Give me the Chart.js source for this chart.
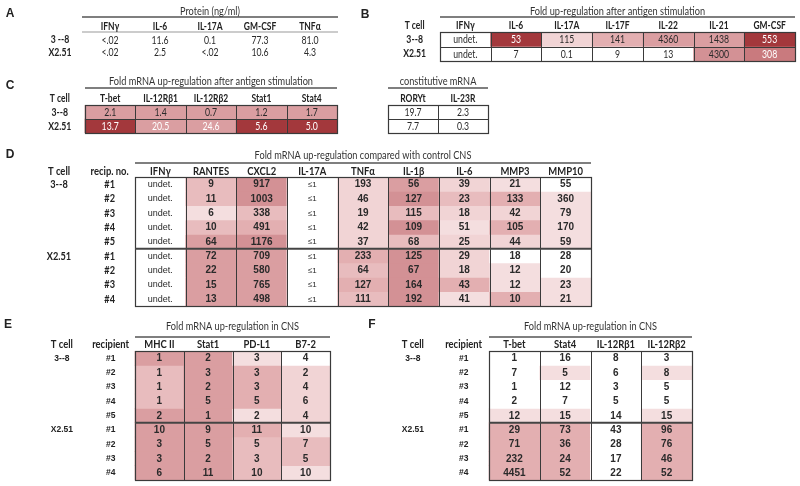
<!DOCTYPE html>
<html>
<head>
<meta charset="utf-8">
<script src="https://cdn.jsdelivr.net/npm/chart.js@4.4.1/dist/chart.umd.min.js"></script>
<style>
  body { margin: 0; background: #fff; }
  #wrap { position: relative; width: 800px; height: 486px; overflow: hidden; }
  #wrap canvas { position: absolute; left: 0; top: 0; }
</style>
</head>
<body>
<div id="wrap"></div>
<script>
// ---- data ----
const aTitle = "Protein (ng/ml)";
const aCols = ["IFNγ", "IL-6", "IL-17A", "GM-CSF", "TNFα"];
const aRows = ["3 --8", "X2.51"];
const aVals = [
  ["<.02", "11.6", "0.1", "77.3", "81.0"],
  ["<.02", "2.5", "<.02", "10.6", "4.3"]
];

const bTitle = "Fold up-regulation after antigen stimulation";
const bCols = ["IFNγ", "IL-6", "IL-17A", "IL-17F", "IL-22", "IL-21", "GM-CSF"];
const bRows = ["3--8", "X2.51"];
const bVals = [
  ["undet.", "53", "115", "141", "4360", "1438", "553"],
  ["undet.", "7", "0.1", "9", "13", "4300", "308"]
];
// shade level of each cell (0 = white ... 8 = dark red)
const bShades = [
  [0, 8, 2, 4, 5, 5, 8],
  [0, 0, 0, 0, 0, 6, 7]
];

const cTitle = "Fold mRNA up-regulation after antigen stimulation";
const cCols = ["T-bet", "IL-12Rβ1", "IL-12Rβ2", "Stat1", "Stat4"];
const cRows = ["3--8", "X2.51"];
const cVals = [
  ["2.1", "1.4", "0.7", "1.2", "1.7"],
  ["13.7", "20.5", "24.6", "5.6", "5.0"]
];
const cShades = [
  [5, 5, 5, 5, 5],
  [8, 5, 5, 8, 8]
];

const c2Title = "constitutive mRNA";
const c2Cols = ["RORYt", "IL-23R"];
const c2Vals = [
  ["19.7", "2.3"],
  ["7.7", "0.3"]
];

const groupLabels = ["3--8", "", "", "", "", "X2.51", "", "", ""];
const recipLabels = ["#1", "#2", "#3", "#4", "#5", "#1", "#2", "#3", "#4"];

const dTitle = "Fold mRNA up-regulation compared with control CNS";
const dCols = ["IFNγ", "RANTES", "CXCL2", "IL-17A", "TNFα", "IL-1β", "IL-6", "MMP3", "MMP10"];
const dVals = [
  ["undet.", "9", "917", "≤1", "193", "56", "39", "21", "55"],
  ["undet.", "11", "1003", "≤1", "46", "127", "23", "133", "360"],
  ["undet.", "6", "338", "≤1", "19", "115", "18", "42", "79"],
  ["undet.", "10", "491", "≤1", "42", "109", "51", "105", "170"],
  ["undet.", "64", "1176", "≤1", "37", "68", "25", "44", "59"],
  ["undet.", "72", "709", "≤1", "233", "125", "29", "18", "28"],
  ["undet.", "22", "580", "≤1", "64", "67", "18", "12", "20"],
  ["undet.", "15", "765", "≤1", "127", "164", "43", "12", "23"],
  ["undet.", "13", "498", "≤1", "111", "192", "41", "10", "21"]
];
const dShades = [
  [0, 3, 6, 0, 2, 5, 2, 1, 0],
  [0, 3, 6, 0, 2, 6, 3, 4, 1],
  [0, 1, 3, 0, 2, 3, 2, 2, 1],
  [0, 3, 4, 0, 2, 6, 1, 4, 1],
  [0, 5, 6, 0, 2, 3, 2, 2, 1],
  [0, 5, 5, 0, 4, 6, 2, 0, 0],
  [0, 5, 5, 0, 3, 6, 2, 1, 0],
  [0, 5, 5, 0, 4, 6, 4, 1, 1],
  [0, 5, 5, 0, 3, 6, 1, 4, 1]
];

const eTitle = "Fold mRNA up-regulation in CNS";
const eCols = ["MHC II", "Stat1", "PD-L1", "B7-2"];
const eVals = [
  ["1", "2", "3", "4"], ["1", "3", "3", "2"], ["1", "2", "3", "4"],
  ["1", "5", "5", "6"], ["2", "1", "2", "4"], ["10", "9", "11", "10"],
  ["3", "5", "5", "7"], ["3", "2", "3", "5"], ["6", "11", "10", "10"]
];
const eShades = [
  [5, 5, 1, 0], [3, 5, 4, 2], [3, 5, 4, 2], [3, 5, 4, 2], [5, 5, 1, 2],
  [5, 5, 4, 1], [5, 5, 3, 3], [5, 5, 3, 3], [5, 5, 3, 1]
];

const fTitle = "Fold mRNA up-regulation in CNS";
const fCols = ["T-bet", "Stat4", "IL-12Rβ1", "IL-12Rβ2"];
const fVals = [
  ["1", "16", "8", "3"], ["7", "5", "6", "8"], ["1", "12", "3", "5"],
  ["2", "7", "5", "5"], ["12", "15", "14", "15"], ["29", "73", "43", "96"],
  ["71", "36", "28", "76"], ["232", "24", "17", "46"], ["4451", "52", "22", "52"]
];
const fShades = [
  [0, 0, 0, 0], [0, 1, 0, 1], [0, 0, 0, 0], [0, 0, 0, 0], [1, 1, 0, 1],
  [4, 4, 0, 4], [4, 4, 0, 4], [4, 4, 0, 4], [4, 4, 0, 4]
];

// ---- styles ----
const palette = ["#ffffff", "#f4dedf", "#f1d4d5", "#e8bcbe", "#e3afb1",
                 "#da9ea1", "#d39195", "#c97a7e", "#a3383c"];
// [font, horizontal squeeze] - Lato is squeezed to look like the narrow original face
const titleFont = ["11.5px Lato", 0.8];
const fontsABC = { head: ["bold 11px Lato", 0.77], val: ["11px Lato", 0.79], lab: ["bold 11px Lato", 0.79] };
const fontsD = { head: ["bold 11.5px Lato", 0.82], val: ["bold 10px 'Liberation Sans'", 1], lab: ["bold 11.5px Lato", 0.8],
                 small: { "undet.": ["9px 'Liberation Sans'", 1], "≤1": ["8px 'Liberation Sans'", 1] } };
const fontsEF = { head: ["bold 11.5px Lato", 0.82], val: ["bold 10px 'Liberation Sans'", 1], lab: ["bold 8.5px 'Liberation Sans'", 1] };

const tables = [
  { letter: "A", letterPos: [10, 14], title: aTitle, labelHeads: [""], rowLabels: [aRows],
    cols: aCols, vals: aVals, box: [85, 33.5, 335, 58.5], grid: false, headLine: true,
    off: { head: 7, line: 16.5, title: 22 }, fonts: fontsABC },
  { letter: "B", letterPos: [365, 15], title: bTitle, labelHeads: ["T cell"], rowLabels: [bRows],
    cols: bCols, vals: bVals, shades: bShades, box: [440, 32, 795, 61], grid: true, rowLines: true,
    off: { head: 7, line: 15, title: 21 }, fonts: fontsABC },
  { letter: "C", letterPos: [10, 86], title: cTitle, labelHeads: ["T cell"], rowLabels: [cRows],
    cols: cCols, vals: cVals, shades: cShades, box: [85, 105, 337, 133], grid: true, rowLines: true,
    whiteRows: [1], off: { head: 7, line: 17, title: 24 }, fonts: fontsABC },
  { title: c2Title, labelHeads: [], rowLabels: [],
    cols: c2Cols, vals: c2Vals, box: [388, 105, 488, 133], grid: true, rowLines: true,
    off: { head: 7, line: 17, title: 24 }, fonts: fontsABC },
  { letter: "D", letterPos: [10, 155], title: dTitle, labelHeads: ["T cell", "recip. no."],
    rowLabels: [groupLabels, recipLabels], cols: dCols, vals: dVals, shades: dShades,
    box: [135, 177, 591, 306], grid: true, groupBreak: 5,
    off: { head: 6, line: 14, title: 22 }, fonts: fontsD },
  { letter: "E", letterPos: [8, 325], title: eTitle, labelHeads: ["T cell", "recipient"],
    rowLabels: [groupLabels, recipLabels], cols: eCols, vals: eVals, shades: eShades,
    box: [135, 351, 330, 480], grid: true, groupBreak: 5,
    off: { head: 7, line: 14, title: 25 }, fonts: fontsEF },
  { letter: "F", letterPos: [372, 325], title: fTitle, labelHeads: ["T cell", "recipient"],
    rowLabels: [groupLabels, recipLabels], cols: fCols, vals: fVals, shades: fShades,
    box: [489, 351, 692, 480], grid: true, groupBreak: 5,
    off: { head: 7, line: 14, title: 25 }, fonts: fontsEF }
];

function putText(ctx, spec, text, x, y) {
  ctx.font = spec[0];
  const w = ctx.measureText(text).width;
  if (spec[1] < 1 && w > 0) ctx.fillText(text, x, y, w * spec[1]);
  else ctx.fillText(text, x, y);
}

// Dibuja títulos, encabezados, líneas y textos de cada tabla
function drawTable(chart, t) {
  const ctx = chart.ctx;
  const xs = chart.scales.x, ys = chart.scales.y;
  const nLab = t.labelHeads.length, nData = t.cols.length, nRows = t.vals.length;
  const x0 = xs.getPixelForValue(nLab - 0.5);
  const x1 = xs.getPixelForValue(nLab + nData - 0.5);
  const y0 = ys.getPixelForValue(0), y1 = ys.getPixelForValue(nRows);

  ctx.save();
  ctx.textAlign = "center";
  ctx.textBaseline = "middle";

  // cell grid
  if (t.grid) {
    ctx.strokeStyle = "#3a3a3a";
    ctx.lineWidth = 1;
    for (let c = 1; c < nData; c++) {
      const x = Math.round(xs.getPixelForValue(nLab + c - 0.5)) + 0.5;
      ctx.beginPath(); ctx.moveTo(x, y0); ctx.lineTo(x, y1); ctx.stroke();
    }
    if (t.rowLines) {
      for (let r = 1; r < nRows; r++) {
        const y = Math.round(ys.getPixelForValue(r)) + 0.5;
        ctx.beginPath(); ctx.moveTo(x0, y); ctx.lineTo(x1, y); ctx.stroke();
      }
    }
    ctx.lineWidth = 1.2;
    ctx.strokeRect(Math.round(x0) + 0.5, Math.round(y0) + 0.5, Math.round(x1 - x0), Math.round(y1 - y0));
    if (t.groupBreak) {
      const y = ys.getPixelForValue(t.groupBreak);
      ctx.lineWidth = 2;
      ctx.strokeStyle = "#444";
      ctx.beginPath(); ctx.moveTo(x0, y); ctx.lineTo(x1, y); ctx.stroke();
    }
  }

  // title and its rule
  const lineX0 = t.grid ? x0 : x0 - 3, lineX1 = t.grid ? x1 : x1 + 3;
  ctx.strokeStyle = "#555";
  ctx.lineWidth = 1.3;
  ctx.beginPath(); ctx.moveTo(lineX0, y0 - t.off.line); ctx.lineTo(lineX1, y0 - t.off.line); ctx.stroke();
  if (t.headLine) {
    ctx.strokeStyle = "#999";
    ctx.lineWidth = 1;
    ctx.beginPath(); ctx.moveTo(lineX0, y0 - 1.5); ctx.lineTo(lineX1, y0 - 1.5); ctx.stroke();
  }
  ctx.fillStyle = "#333";
  putText(ctx, titleFont, t.title, (x0 + x1) / 2, y0 - t.off.title);

  if (t.letter) {
    ctx.fillStyle = "#222";
    putText(ctx, ["bold 12px 'Liberation Sans'", 1], t.letter, t.letterPos[0], t.letterPos[1]);
  }

  // column headers
  ctx.fillStyle = "#222";
  xs.getLabels().forEach((lab, c) => {
    putText(ctx, t.fonts.head, lab, xs.getPixelForValue(c), y0 - t.off.head);
  });

  // row labels
  t.rowLabels.forEach((col, c) => {
    col.forEach((lab, r) => {
      if (lab) putText(ctx, t.fonts.lab, lab, xs.getPixelForValue(c), ys.getPixelForValue(r + 0.5));
    });
  });

  // cell values
  t.vals.forEach((row, r) => {
    row.forEach((v, c) => {
      const shade = t.shades ? t.shades[r][c] : 0;
      const white = shade >= 7 || (t.whiteRows && t.whiteRows.includes(r));
      ctx.fillStyle = white ? "#ffffff" : "#2a2a2a";
      const spec = (t.fonts.small && t.fonts.small[v]) || t.fonts.val;
      putText(ctx, spec, v, xs.getPixelForValue(nLab + c), ys.getPixelForValue(r + 0.5) + 0.5);
    });
  });
  ctx.restore();
}

function makeTable(t) {
  const canvas = document.createElement("canvas");
  canvas.width = 800;
  canvas.height = 486;
  document.getElementById("wrap").appendChild(canvas);

  const nLab = t.labelHeads.length, nData = t.cols.length;
  const colW = (t.box[2] - t.box[0]) / nData;
  const left = t.box[0] - nLab * colW;
  const labels = t.labelHeads.concat(t.cols);

  const datasets = t.vals.map((row, r) => ({
    data: labels.map((_, c) => (c < nLab ? null : [r, r + 1])),
    backgroundColor: labels.map((_, c) =>
      c < nLab ? "rgba(0,0,0,0)" : palette[t.shades ? t.shades[r][c - nLab] : 0]),
    grouped: false,
    barPercentage: 1,
    categoryPercentage: 1,
    borderWidth: 0
  }));

  return new Chart(canvas, {
    type: "bar",
    data: { labels: labels, datasets: datasets },
    options: {
      responsive: false,
      animation: false,
      devicePixelRatio: 1,
      events: [],
      layout: { padding: { left: left, top: t.box[1], right: 800 - t.box[2], bottom: 486 - t.box[3] } },
      scales: {
        x: { type: "category", display: false, offset: true },
        y: { type: "linear", display: false, min: 0, max: t.vals.length, reverse: true }
      },
      plugins: { legend: { display: false }, tooltip: { enabled: false } }
    },
    plugins: [{ id: "tableText", afterDraw: (chart) => drawTable(chart, t) }]
  });
}

tables.forEach(makeTable);
</script>
</body>
</html>
